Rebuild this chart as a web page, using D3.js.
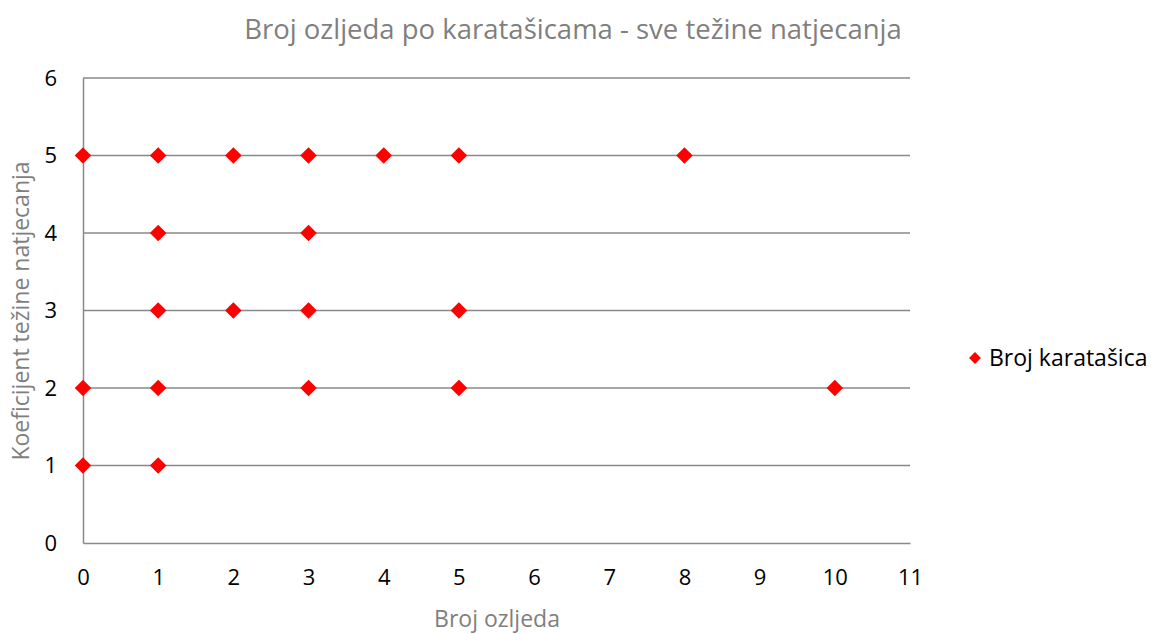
<!DOCTYPE html>
<html>
<head>
<meta charset="utf-8">
<script src="https://cdn.jsdelivr.net/npm/d3@7"></script>
<style>
  body { margin: 0; background: #fff; }
  text { font-family: "Open Sans", "Noto Sans", sans-serif; }
</style>
</head>
<body>
<svg id="chart" width="1151" height="634"></svg>
<script>
// data: (broj ozljeda, koeficijent tezine)
var injuries = [0, 1, 2, 3, 4, 5, 8, 1, 3, 1, 2, 3, 5, 0, 1, 3, 5, 10, 0, 1];
var weights  = [5, 5, 5, 5, 5, 5, 5, 4, 4, 3, 3, 3, 3, 2, 2, 2, 2, 2, 1, 1];
var xTicks = [0, 1, 2, 3, 4, 5, 6, 7, 8, 9, 10, 11];
var yTicks = [0, 1, 2, 3, 4, 5, 6];
var seriesName = "Broj karatašica";

var svg = d3.select("#chart");
var x = d3.scaleLinear().domain([0, 11]).range([83, 910]);
var y = d3.scaleLinear().domain([0, 6]).range([543, 78]);

// horizontal gridlines
svg.append("g").selectAll("line")
    .data(yTicks.slice(1))
    .enter().append("line")
    .attr("x1", x(0)).attr("x2", x(11))
    .attr("y1", function(d) { return y(d); })
    .attr("y2", function(d) { return y(d); })
    .attr("stroke", "#898989").attr("stroke-width", 1.5);

// axes, no tick marks
var xAxis = svg.append("g")
    .attr("transform", "translate(0," + y(0) + ")")
    .call(d3.axisBottom(x).tickValues(xTicks).tickFormat(d3.format("d")).tickSize(0).tickPadding(26));
var yAxis = svg.append("g")
    .attr("transform", "translate(" + x(0) + ",0)")
    .call(d3.axisLeft(y).tickValues(yTicks).tickFormat(d3.format("d")).tickSize(0).tickPadding(26));

[xAxis, yAxis].forEach(function(a) {
    a.attr("font-size", null).attr("font-family", null);
    a.select(".domain").attr("stroke", "#898989").attr("stroke-width", 1.5);
    a.selectAll("text").attr("font-size", 22).attr("fill", "#000");
});

// points
var diamond = d3.symbol().type(d3.symbolDiamond2).size(175);
svg.append("g").selectAll("path")
    .data(injuries.map(function(v, i) { return [v, weights[i]]; }))
    .enter().append("path")
    .attr("d", diamond)
    .attr("transform", function(d) { return "translate(" + x(d[0]) + "," + y(d[1]) + ")"; })
    .attr("fill", "#ff0000");

// title and axis titles
svg.append("text")
    .attr("x", 573).attr("y", 39)
    .attr("text-anchor", "middle")
    .attr("font-size", 27.5).attr("fill", "#7f7f7f")
    .text("Broj ozljeda po karatašicama - sve težine natjecanja");

svg.append("text")
    .attr("x", 497).attr("y", 627)
    .attr("text-anchor", "middle")
    .attr("font-size", 23).attr("fill", "#7f7f7f")
    .text("Broj ozljeda");

svg.append("text")
    .attr("transform", "translate(29,311) rotate(-90)")
    .attr("text-anchor", "middle")
    .attr("font-size", 23).attr("fill", "#7f7f7f")
    .text("Koeficijent težine natjecanja");

// legend
var legend = svg.append("g").attr("transform", "translate(975,358)");
legend.append("path").attr("d", d3.symbol().type(d3.symbolDiamond2).size(90)).attr("fill", "#ff0000");
legend.append("text").attr("x", 14).attr("y", 8)
    .attr("font-size", 23).attr("fill", "#000")
    .text(seriesName);
</script>
</body>
</html>
